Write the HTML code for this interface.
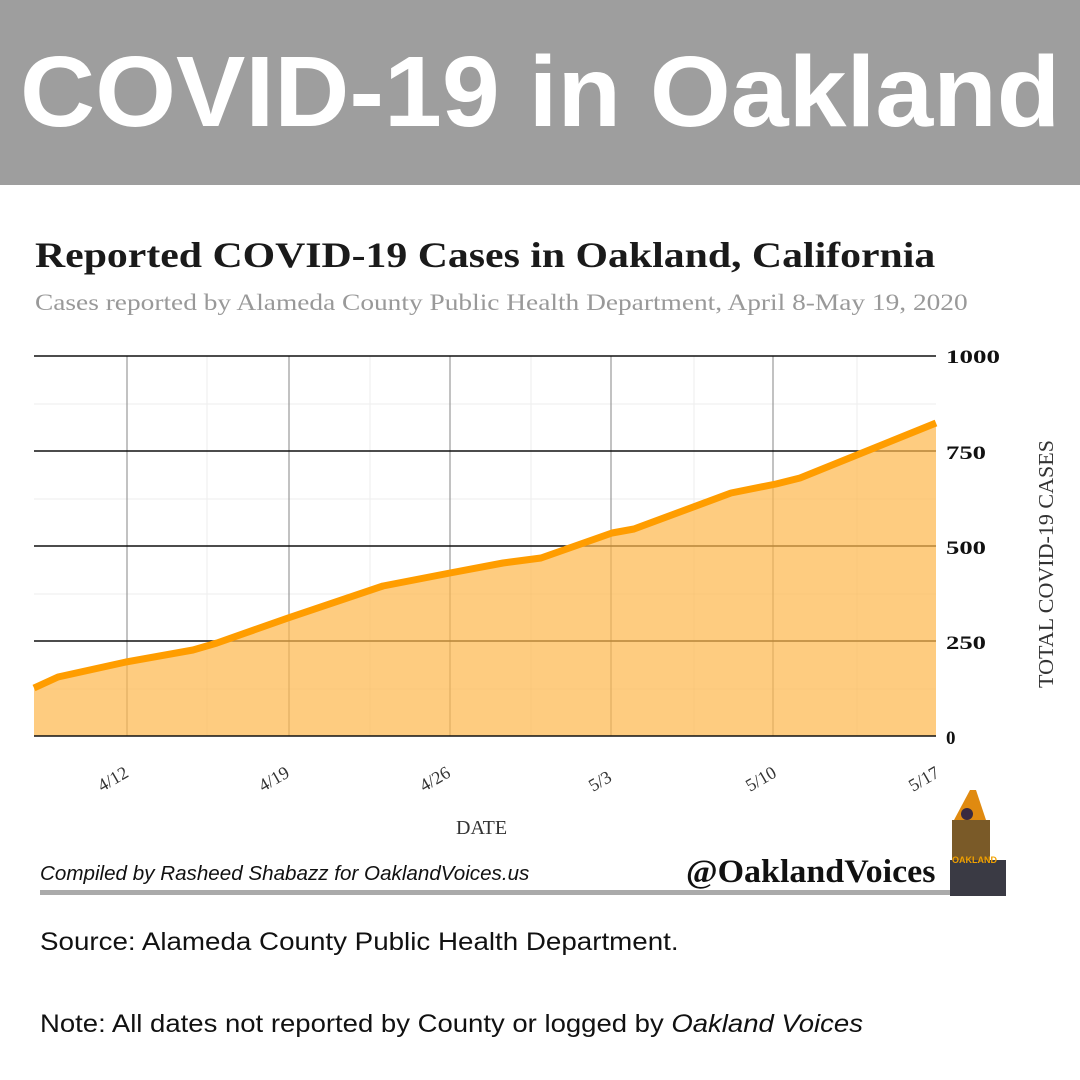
<!DOCTYPE html>
<html><head><meta charset="utf-8"><style>
body{margin:0;width:1080px;height:1080px;background:#fff;position:relative;overflow:hidden;font-family:"Liberation Sans",sans-serif}
.hdr{position:absolute;left:0;top:0;width:1080px;height:185px;background:#9e9e9e;color:#fff;font-weight:bold;font-size:100px;text-align:center;line-height:185px;white-space:nowrap}
.hdr span{display:inline-block;transform:scaleX(1.04)}
.t{position:absolute;font-family:"Liberation Serif",serif;white-space:nowrap;transform-origin:0 0}
.s{position:absolute;white-space:nowrap;transform-origin:0 0;color:#111}
</style></head><body>
<div class="hdr"><span>COVID-19 in Oakland</span></div>
<div class="t" style="left:35px;top:234px;font-size:36px;font-weight:bold;color:#1a1a1a;transform:scaleX(1.16)">Reported COVID-19 Cases in Oakland, California</div>
<div class="t" style="left:35px;top:290px;font-size:23px;color:#999;transform:scaleX(1.19)">Cases reported by Alameda County Public Health Department, April 8-May 19, 2020</div>
<svg width="1080" height="1080" style="position:absolute;left:0;top:0">
<g stroke="#eee" stroke-width="1">
<line x1="34" y1="404" x2="936" y2="404"/><line x1="34" y1="499" x2="936" y2="499"/><line x1="34" y1="594" x2="936" y2="594"/><line x1="34" y1="689" x2="936" y2="689"/>
<line x1="207" y1="356" x2="207" y2="736"/><line x1="370" y1="356" x2="370" y2="736"/><line x1="531" y1="356" x2="531" y2="736"/><line x1="694" y1="356" x2="694" y2="736"/><line x1="857" y1="356" x2="857" y2="736"/>
</g>
<g stroke="#999" stroke-width="1.2">
<line x1="127" y1="356" x2="127" y2="736"/><line x1="289" y1="356" x2="289" y2="736"/><line x1="450" y1="356" x2="450" y2="736"/><line x1="611" y1="356" x2="611" y2="736"/><line x1="773" y1="356" x2="773" y2="736"/>
</g>
<g stroke="#111" stroke-width="1.5">
<line x1="34" y1="356" x2="936" y2="356"/><line x1="34" y1="451" x2="936" y2="451"/><line x1="34" y1="546" x2="936" y2="546"/><line x1="34" y1="641" x2="936" y2="641"/>
</g>
<polygon fill="#fdb64a" fill-opacity="0.7" points="34,736 34,688 58,677 126,662 193,650 217,643 288,618 383,586 450,573 503,563 541,558 612,533 634,529 731,493 776,484 800,478 936,423 936,736"/>
<polyline fill="none" stroke="#ff9d00" stroke-width="7" stroke-linejoin="round" points="34,688 58,677 126,662 193,650 217,643 288,618 383,586 450,573 503,563 541,558 612,533 634,529 731,493 776,484 800,478 936,423"/>
<line x1="34" y1="736" x2="936" y2="736" stroke="#111" stroke-width="1.5"/>
<g font-family="Liberation Serif,serif" font-weight="bold" font-size="19" fill="#111">
<text x="946" y="363" textLength="54" lengthAdjust="spacingAndGlyphs">1000</text><text x="946" y="459" textLength="40" lengthAdjust="spacingAndGlyphs">750</text><text x="946" y="554" textLength="40" lengthAdjust="spacingAndGlyphs">500</text><text x="946" y="649" textLength="40" lengthAdjust="spacingAndGlyphs">250</text><text x="946" y="744">0</text>
</g>
<g font-family="Liberation Serif,serif" font-size="18" fill="#333">
<text transform="translate(102,792) rotate(-30)">4/12</text>
<text transform="translate(263,792) rotate(-30)">4/19</text>
<text transform="translate(424,792) rotate(-30)">4/26</text>
<text transform="translate(593,792) rotate(-30)">5/3</text>
<text transform="translate(750,792) rotate(-30)">5/10</text>
<text transform="translate(913,792) rotate(-30)">5/17</text>
<text x="456" y="834" font-size="20">DATE</text>
<text transform="translate(1053,688) rotate(-90)" font-size="21" textLength="248" lengthAdjust="spacingAndGlyphs">TOTAL COVID-19 CASES</text>
</g>
<rect x="40" y="890" width="960" height="5" fill="#aaa"/>
<g transform="translate(950,790)">
<polygon points="20,0 26,0 36,30 4,30" fill="#e08a10"/>
<rect x="2" y="30" width="38" height="40" fill="#7a5a28"/>
<rect x="0" y="70" width="56" height="36" fill="#3a3a44"/>
<circle cx="17" cy="24" r="6" fill="#3a2a40"/>
<text x="2" y="73" font-size="9" fill="#f0a000" font-weight="bold">OAKLAND</text>
</g>
</svg>
<div class="s" style="left:40px;top:863px;font-size:20px;font-style:italic;transform:scaleX(1.03)">Compiled by Rasheed Shabazz for OaklandVoices.us</div>
<div class="t" style="left:686px;top:854px;font-size:33px;font-weight:bold;color:#111;transform:scaleX(1.03)">@OaklandVoices</div>
<div class="s" style="left:40px;top:928px;font-size:25px;transform:scaleX(1.11)">Source: Alameda County Public Health Department.</div>
<div class="s" style="left:40px;top:1010px;font-size:25px;transform:scaleX(1.1)">Note: All dates not reported by County or logged by <i>Oakland Voices</i></div>
</body></html>
